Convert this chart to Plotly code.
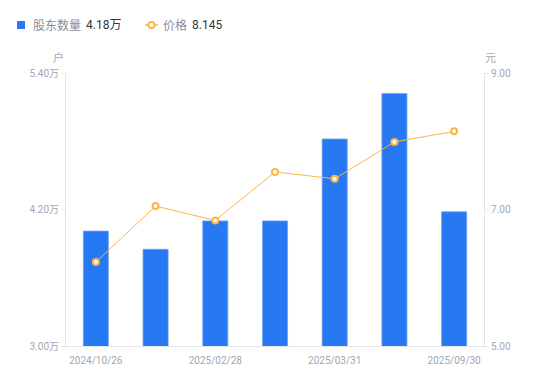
import plotly.graph_objects as go

categories = ["2024/10/26", "2024/12/31", "2025/02/28", "2025/03/10",
              "2025/03/31", "2025/06/30", "2025/09/30"]
holders_wan = [4.01, 3.85, 4.10, 4.10, 4.82, 5.22, 4.18]
price = [6.23, 7.05, 6.84, 7.55, 7.45, 7.99, 8.145]
left_ticks = [3.0, 4.2, 5.4]
left_ticktext = ["3.00万", "4.20万", "5.40万"]
right_ticks = [5.0, 7.0, 9.0]
right_ticktext = ["5.00", "7.00", "9.00"]
xtick_labels = ["2024/10/26", "2025/02/28", "2025/03/31", "2025/09/30"]
legend_names = ["股东数量", "价格"]
legend_values = ["4.18万", "8.145"]

FONT = "Roboto, Noto Sans CJK SC, sans-serif"
CJK = "Noto Sans CJK SC, sans-serif"
GRAY = "#a3a6b4"
AXIS = "#e3e5ea"
BLUE = "#2678F3"
ORANGE = "#FDB546"

# page has an 8px body margin; figure is sized/offset to compensate
OFF = 8
W, H = 550 - OFF, 381 - OFF
L, R, T, B = 66 - OFF, 66, 73 - OFF, 35
PW, PH = W - L - R, H - T - B


def px(x):
    return (x - OFF - L) / PW


def py(y):
    return (H - B - (y - OFF)) / PH


fig = go.Figure()
fig.add_trace(go.Bar(
    x=categories, y=holders_wan, name=legend_names[0],
    marker=dict(color=BLUE, line=dict(color="#6fa3f7", width=0.8)),
    width=0.42, yaxis="y",
))
fig.add_trace(go.Scatter(
    x=categories, y=price, name=legend_names[1],
    mode="lines+markers",
    line=dict(color=ORANGE, width=1),
    marker=dict(symbol="circle", size=6, color="white",
                line=dict(color=ORANGE, width=2)),
    yaxis="y2",
))

shapes = [
    dict(type="rect", xref="paper", yref="paper",
         x0=px(17), x1=px(25), y0=py(29), y1=py(21),
         fillcolor=BLUE, line=dict(width=0)),
    dict(type="line", xref="paper", yref="paper",
         x0=px(145), x1=px(158), y0=py(25), y1=py(25),
         line=dict(color=ORANGE, width=1.5)),
    dict(type="circle", xref="paper", yref="paper",
         x0=px(148.5), x1=px(154.5), y0=py(28), y1=py(22),
         fillcolor="white", line=dict(color=ORANGE, width=1.8)),
]

annotations = [
    dict(text=legend_names[0], xref="paper", yref="paper", x=px(31), y=py(25),
         xanchor="left", yanchor="middle", showarrow=False,
         font=dict(size=12, color="#8a8d99", family=CJK)),
    dict(text=legend_values[0], xref="paper", yref="paper", x=px(84), y=py(25),
         xanchor="left", yanchor="middle", showarrow=False,
         font=dict(size=12, color="#33353d", family=FONT)),
    dict(text=legend_names[1], xref="paper", yref="paper", x=px(161), y=py(25),
         xanchor="left", yanchor="middle", showarrow=False,
         font=dict(size=12, color="#8a8d99", family=CJK)),
    dict(text=legend_values[1], xref="paper", yref="paper", x=px(190), y=py(25),
         xanchor="left", yanchor="middle", showarrow=False,
         font=dict(size=12, color="#33353d", family=FONT)),
    dict(text="户", xref="paper", yref="paper", x=px(58.5), y=py(57),
         xanchor="center", yanchor="middle", showarrow=False,
         font=dict(size=11, color=GRAY, family=CJK)),
    dict(text="元", xref="paper", yref="paper", x=px(490.5), y=py(57),
         xanchor="center", yanchor="middle", showarrow=False,
         font=dict(size=11, color=GRAY, family=CJK)),
]

fig.update_layout(
    width=W, height=H,
    margin=dict(l=L, r=R, t=T, b=B, autoexpand=False),
    paper_bgcolor="white", plot_bgcolor="white",
    font=dict(family=FONT, size=11, color=GRAY),
    showlegend=False,
    xaxis=dict(
        type="category", range=[-0.5, 6.5],
        tickmode="array", tickvals=xtick_labels, ticktext=xtick_labels,
        showline=True, linecolor=AXIS, linewidth=1,
        ticks="", showgrid=False, zeroline=False, ticklabelstandoff=5,
        tickfont=dict(size=10, color=GRAY),
    ),
    yaxis=dict(
        range=[3.0, 5.4], tickmode="array", tickvals=left_ticks,
        ticktext=left_ticktext, showline=True, linecolor=AXIS, linewidth=1,
        ticks="outside", ticklen=4, tickcolor=AXIS,
        showgrid=False, zeroline=False,
        tickfont=dict(size=10, color=GRAY),
    ),
    yaxis2=dict(
        range=[5.0, 9.0], tickmode="array", tickvals=right_ticks,
        ticktext=right_ticktext, overlaying="y", side="right",
        showline=True, linecolor=AXIS, linewidth=1,
        ticks="outside", ticklen=4, tickcolor=AXIS,
        showgrid=False, zeroline=False,
        tickfont=dict(size=10, color=GRAY),
    ),
    shapes=shapes,
    annotations=annotations,
)

fig.write_html("out.html")
